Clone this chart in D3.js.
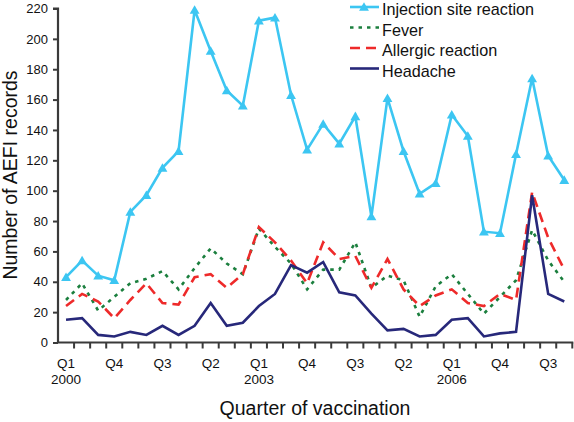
<!DOCTYPE html>
<html><head><meta charset="utf-8">
<script src="https://cdn.jsdelivr.net/npm/d3@7"></script>
<style>body{margin:0;background:#fff}svg{display:block}text{font-family:"Liberation Sans",Arial,sans-serif}</style>
</head><body>
<svg id="c" width="574" height="422"></svg>
<script>
const quarters = ["Q1","Q2","Q3","Q4"];
const years = [2000,2001,2002,2003,2004,2005,2006,2007];
const injection = [43,54,44,41,86,97,115,126,219,192,166,156,212,214,163,127,144,131,149,83,161,126,98,105,150,136,73,72,124,174,123,107];
const fever     = [28,39,21,30,39,42,47,35,49,62,52,45,75,63,52,35,48,48,66,36,44,41,17,37,45,32,19,30,41,74,54,40];
const allergic  = [24,32,27,16,28,39,26,25,43,45,36,45,76,66,54,39,66,55,57,36,55,35,24,31,35,26,24,32,28,99,69,48];
const headache  = [15,16,5,4,7,5,11,5,11,26,11,13,24,32,51,46,53,33,31,19,8,9,4,5,15,16,4,6,7,97,32,27];
const seriesNames = ["Injection site reaction","Fever","Allergic reaction","Headache"];
const yTicks = [0,20,40,60,80,100,120,140,160,180,200,220];

const categories = [];
years.forEach(y => quarters.forEach(q => categories.push(q + " " + y)));

const svg = d3.select("#c");
const L = 58, R = 572.3, T = 8.5, B = 342.5;
const x = d3.scaleBand().domain(categories).range([L, R]);
const y = d3.scaleLinear().domain([0, 220]).range([B, T]);
const axisCol = "#3a3a3a";

const series = [
  {name: seriesNames[0], values: injection, color: "#3cc6f2", dash: null, marker: true},
  {name: seriesNames[1], values: fever, color: "#1b7f3e", dash: "3.5,5", marker: false},
  {name: seriesNames[2], values: allergic, color: "#ee2a2a", dash: "10,6", marker: false},
  {name: seriesNames[3], values: headache, color: "#27287a", dash: null, marker: false}
];

const line = d3.line().x((d,i) => x(categories[i]) + x.bandwidth()/2).y(d => y(d));
series.forEach(s => {
  svg.append("path").datum(s.values).attr("d", line)
    .attr("fill","none").attr("stroke", s.color).attr("stroke-width", 2.6)
    .attr("stroke-dasharray", s.dash).attr("stroke-linejoin","miter");
});
const tri = d3.symbol().type(d3.symbolTriangle).size(42);
svg.selectAll(".tri").data(injection).join("path")
  .attr("transform", (d,i) => `translate(${x(categories[i]) + x.bandwidth()/2},${y(d)+1})`)
  .attr("d", tri).attr("fill", series[0].color);

// y axis
const yAxis = d3.axisLeft(y).tickValues(yTicks).tickSize(5).tickPadding(5);
const gy = svg.append("g").attr("transform", `translate(${L},0)`).call(yAxis);
gy.select(".domain").attr("stroke", axisCol).attr("stroke-width", 2.2).attr("d", `M-5,${T}H0V${B}`);
gy.selectAll(".tick line").attr("stroke", axisCol).attr("stroke-width", 2);
gy.selectAll(".tick text").attr("font-size", 13).attr("fill", "#111");

// x axis with ticks at category boundaries
const gx = svg.append("g");
gx.append("line").attr("x1", L-1).attr("x2", R+1).attr("y1", B).attr("y2", B).attr("stroke", axisCol).attr("stroke-width", 2.2);
categories.forEach((c,i) => {
  const bx = x(c) + x.bandwidth();
  gx.append("line").attr("x1", bx).attr("x2", bx).attr("y1", B).attr("y2", B+6).attr("stroke", axisCol).attr("stroke-width", 2);
});
categories.forEach((c,i) => {
  if (i % 3 !== 0) return;
  const cx = x(c) + x.bandwidth()/2;
  const [q, yr] = c.split(" ");
  gx.append("text").attr("x", cx).attr("y", 368).attr("text-anchor","middle").attr("font-size", 13.5).attr("fill","#111").text(q);
  if (q === "Q1") gx.append("text").attr("x", cx).attr("y", 384).attr("text-anchor","middle").attr("font-size", 13.5).attr("fill","#111").text(yr);
});

// axis titles
svg.append("text").attr("x", 315).attr("y", 415).attr("text-anchor","middle").attr("font-size", 19.5).attr("fill","#111").text("Quarter of vaccination");
svg.append("text").attr("transform","translate(17,175) rotate(-90)").attr("text-anchor","middle").attr("font-size", 19.5).attr("fill","#111").text("Number of AEFI records");

// legend
const lg = svg.append("g");
const rowsY = [7, 27.5, 48, 68.5];
const textY = [15, 36, 56, 77];
series.forEach((s,i) => {
  const ly = rowsY[i];
  lg.append("line").attr("x1", 350).attr("x2", 379).attr("y1", ly).attr("y2", ly)
    .attr("stroke", s.color).attr("stroke-width", 2.6).attr("stroke-dasharray", s.dash);
  if (s.marker) lg.append("path").attr("d", tri).attr("transform", `translate(364,${ly+1})`).attr("fill", s.color);
  lg.append("text").attr("x", 382).attr("y", textY[i]).attr("font-size", 16.2).attr("fill","#111").text(s.name);
});
</script>
</body></html>
